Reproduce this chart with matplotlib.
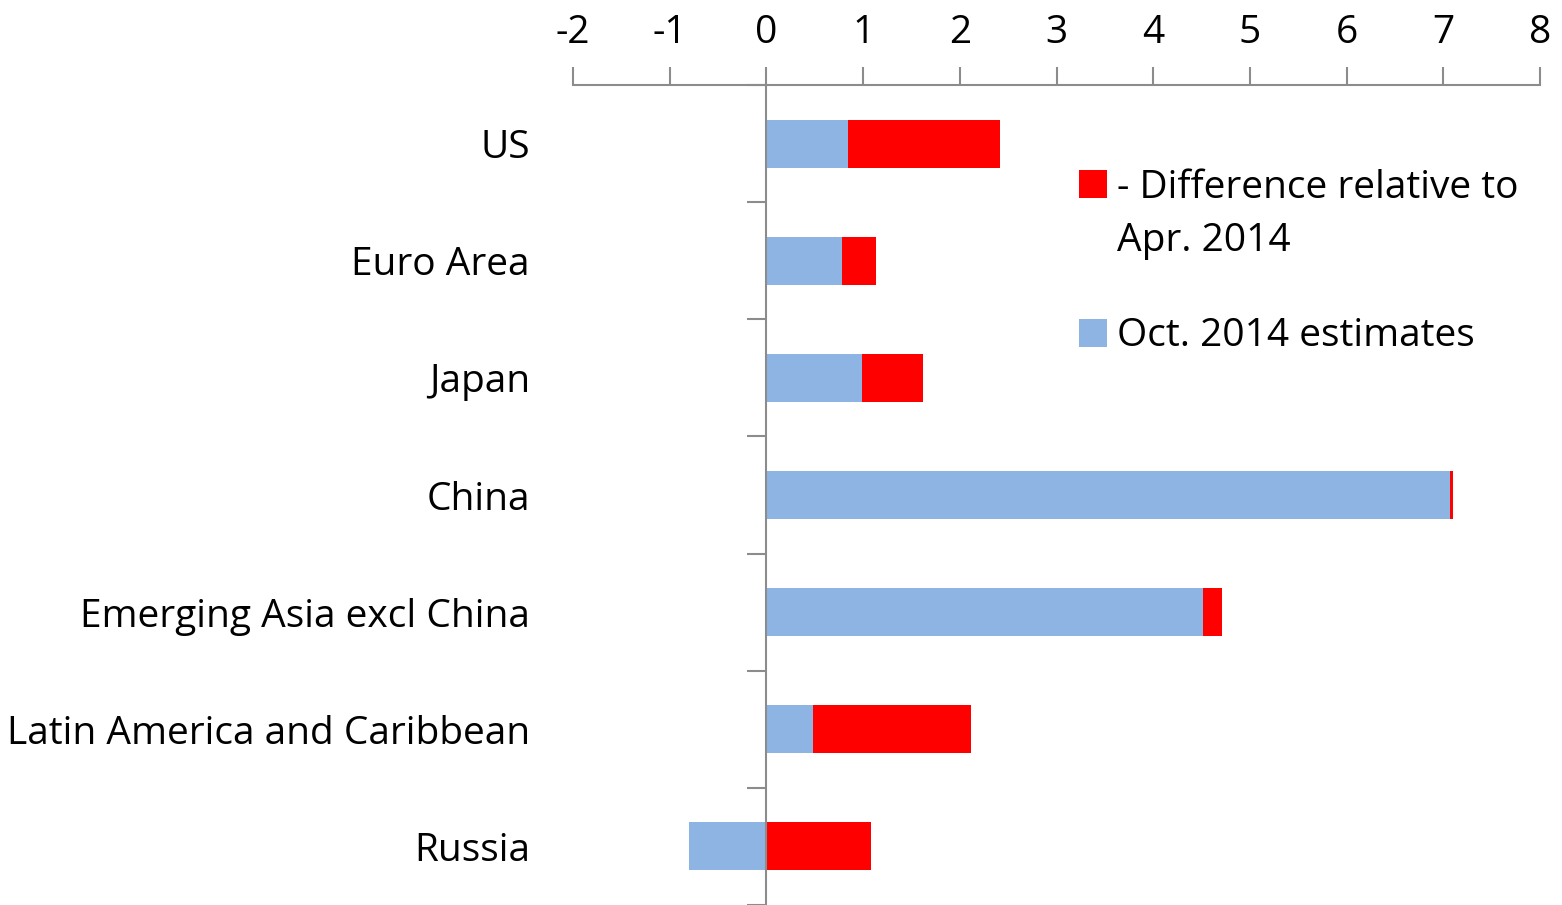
import matplotlib
matplotlib.use("Agg")
import matplotlib.pyplot as plt
import matplotlib.transforms as mtransforms
from matplotlib.patches import Rectangle
import numpy as np

categories = ["US", "Euro Area", "Japan", "China", "Emerging Asia excl China",
              "Latin America and Caribbean", "Russia"]
oct_2014 = [0.84, 0.78, 0.99, 7.07, 4.51, 0.48, -0.80]
diff_apr_2014 = [1.58, 0.35, 0.63, 0.03, 0.20, 1.64, 1.08]
x_ticks = [-2, -1, 0, 1, 2, 3, 4, 5, 6, 7, 8]
legend_labels = ["- Difference relative to\nApr. 2014", "Oct. 2014 estimates"]

BLUE = "#8EB4E3"
RED = "#FF0000"
GRAY = "#8C8C8C"
FONT = "Open Sans"
FS = 28

W, H = 1562, 905
fig = plt.figure(figsize=(W / 100, H / 100), dpi=100)
ax = fig.add_axes([573 / W, 0, 967 / W, (H - 85) / H])

n = len(categories)
ypos = np.arange(n)[::-1]
oct_arr = np.array(oct_2014)
diff_arr = np.array(diff_apr_2014)
# stacked: positives stack on positives, negatives separately (Excel style)
left_diff = np.where(oct_arr > 0, oct_arr, 0)
ax.barh(ypos, oct_arr, height=0.41, color=BLUE, linewidth=0)
ax.barh(ypos, diff_arr, left=left_diff, height=0.41, color=RED, linewidth=0)

ax.set_xlim(-2, 8)
ax.set_ylim(-0.5, n - 0.5)

ax.xaxis.tick_top()
ax.set_xticks(x_ticks)
ax.set_xticklabels([str(t) for t in x_ticks], fontsize=FS, family=FONT)
ax.tick_params(axis="x", direction="out", length=13, width=1.5, color=GRAY, pad=11)

for s in ["right", "bottom"]:
    ax.spines[s].set_visible(False)
ax.spines["top"].set_color(GRAY)
ax.spines["top"].set_linewidth(1.5)
ax.spines["left"].set_position(("data", 0))
ax.spines["left"].set_color(GRAY)
ax.spines["left"].set_linewidth(1.5)

ax.set_yticks(np.arange(-0.5, n, 1.0))
ax.set_yticklabels([])
ax.tick_params(axis="y", direction="out", length=14, width=1.5, color=GRAY)

trans = mtransforms.blended_transform_factory(ax.transAxes, ax.transData)
for yp, cat in zip(ypos, categories):
    ax.text(-0.0445, yp, cat, transform=trans, ha="right", va="center_baseline",
            fontsize=FS, family=FONT, color="black")

# legend (manual, Excel-like)
sq = 28
fig.add_artist(Rectangle((1079 / W, 1 - 198 / H), sq / W, sq / H,
                         transform=fig.transFigure, color=RED, lw=0))
fig.add_artist(Rectangle((1079 / W, 1 - 347 / H), sq / W, sq / H,
                         transform=fig.transFigure, color=BLUE, lw=0))
line1, line2 = legend_labels[0].split("\n")
fig.text(1117 / W, 1 - 183 / H, line1, ha="left", va="center_baseline",
         fontsize=FS, family=FONT)
fig.text(1117 / W, 1 - 237 / H, line2, ha="left", va="center_baseline",
         fontsize=FS, family=FONT)
fig.text(1117 / W, 1 - 332 / H, legend_labels[1], ha="left", va="center_baseline",
         fontsize=FS, family=FONT)

fig.savefig("out.png", dpi=100, facecolor="white")
